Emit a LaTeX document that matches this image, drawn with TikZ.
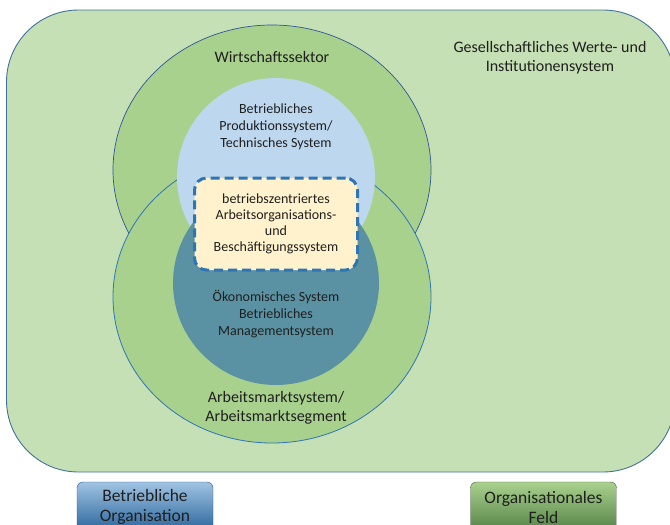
\documentclass[tikz,border=0pt]{standalone}
\usepackage{fontspec}
\setmainfont{Carlito}
\usepackage{xcolor}
\usepackage{tikz}
\usetikzlibrary{shapes.geometric, positioning}

\definecolor{feldfill}{HTML}{C5E0B4}
\definecolor{feldline}{HTML}{41719C}
\definecolor{sektorfill}{HTML}{A9D18E}
\definecolor{sektorline}{HTML}{2F5597}
\definecolor{marktline}{HTML}{2E75B6}
\definecolor{prodfill}{HTML}{BDD7EE}
\definecolor{oekofill}{HTML}{5A92A3}
\definecolor{kernfill}{HTML}{FFF2CC}
\definecolor{kernline}{HTML}{2E75B6}
\definecolor{textgray}{HTML}{1F1F1F}

\begin{document}
\begin{tikzpicture} [x = 1pt, y = -1pt,
          sphere/.style = {ellipse, fill = sektorfill, inner sep = 0pt},
          bigtext/.style = {align = center, text = textgray,
              font = \fontsize{16}{19.5}\selectfont
          },
          smalltext/.style = {align = center, text = textgray,
              font = \fontsize{14}{17}\selectfont
          },
          legendbox/.style = {rounded corners = 6pt, inner sep = 0pt,
              minimum height = 50pt, align = center, text = textgray,
              font = \fontsize{17.5}{20}\selectfont
          }
          ]

          \clip (0,0) rectangle (670,525);

          % Gesellschaftliches Feld
          \node (feld) [draw = feldline, fill = feldfill, line width = 0.9pt,
              rounded corners = 72pt, inner sep = 0pt,
              minimum width = 668.5pt, minimum height = 462pt] at (340.75,241) {};
          \node (feld text) [bigtext] at (550,57.5) {Gesellschaftliches Werte- und\\Institutionensystem};

          % Wirtschaftssektor und Arbeitsmarkt
          \node (sektor) [sphere, draw = sektorline, line width = 0.7pt,
              minimum width = 318pt, minimum height = 290pt] at (272,170) {};
          \node (markt) [sphere, draw = marktline, line width = 0.8pt,
              minimum width = 318pt, minimum height = 292pt] at (272,297) {};
          \node (sektor text) [bigtext] at (272,57) {Wirtschaftssektor};
          \node (markt text) [bigtext] at (276,408) {Arbeitsmarktsystem/\\Arbeitsmarktsegment};

          % Inner systems
          \node (prod) [ellipse, fill = prodfill, inner sep = 0pt,
              minimum width = 198pt, minimum height = 198pt] at (276,177) {};
          \node (oeko) [ellipse, fill = oekofill, inner sep = 0pt,
              minimum width = 206pt, minimum height = 204pt] at (276,283) {};
          \node (prod text) [smalltext] at (276,127) {Betriebliches\\Produktionssystem/\\Technisches System};
          \node (oeko text) [smalltext] at (276,314) {Ökonomisches System\\Betriebliches\\Managementsystem};

          % Kern
          \node (kern) [smalltext, draw = kernline, fill = kernfill, line width = 3pt,
              dash pattern = on 9pt off 5pt, rounded corners = 12pt,
              minimum width = 163pt, minimum height = 92pt,
              font = \fontsize{14}{16.2}\selectfont] at (276,224)
              {betriebszentriertes\\Arbeitsorganisations-\\und\\Beschäftigungssystem};

          % Legend
          \node (orga) [legendbox, draw = sektorline, top color = prodfill!80!marktline,
              bottom color = marktline!85!black, minimum width = 136pt] at (145,507)
              {Betriebliche\\Organisation};
          \node (orgfeld) [legendbox, draw = sektorfill!40!black, top color = sektorfill,
              bottom color = sektorfill!55!black!90!green, minimum width = 146pt] at (543.5,507)
              {Organisationales\\Feld};

        \end{tikzpicture}
\end{document}
